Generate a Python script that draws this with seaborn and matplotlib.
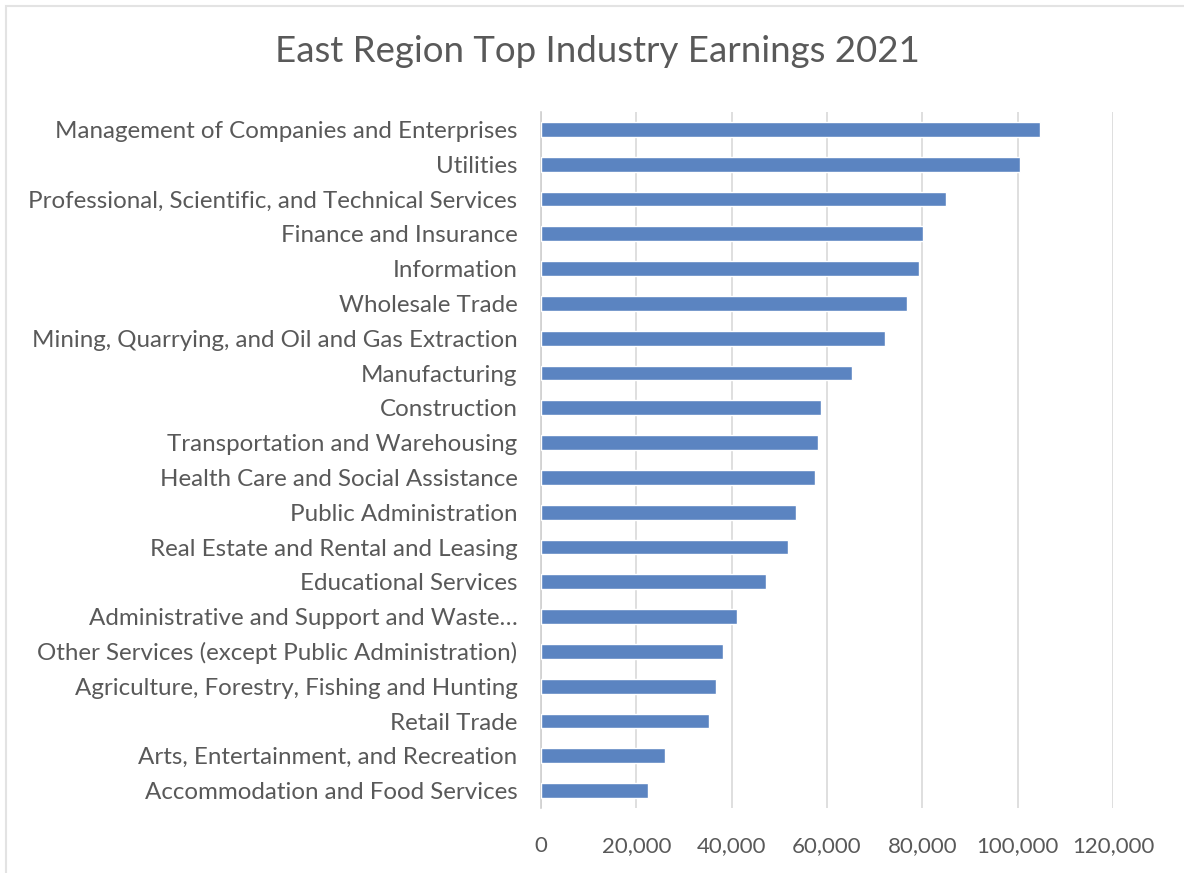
import pandas as pd
import seaborn as sns
import matplotlib.pyplot as plt
from matplotlib.ticker import FuncFormatter
from matplotlib.patches import Rectangle

# Industry earnings, East region 2021
industries = [
    "Management of Companies and Enterprises",
    "Utilities",
    "Professional, Scientific, and Technical Services",
    "Finance and Insurance",
    "Information",
    "Wholesale Trade",
    "Mining, Quarrying, and Oil and Gas Extraction",
    "Manufacturing",
    "Construction",
    "Transportation and Warehousing",
    "Health Care and Social Assistance",
    "Public Administration",
    "Real Estate and Rental and Leasing",
    "Educational Services",
    "Administrative and Support and Waste\u2026",
    "Other Services (except Public Administration)",
    "Agriculture, Forestry, Fishing and Hunting",
    "Retail Trade",
    "Arts, Entertainment, and Recreation",
    "Accommodation and Food Services",
]
earnings = [
    104700, 100400, 84900, 80200, 79200, 76800, 72200, 65300, 58650, 58050,
    57500, 53400, 51900, 47300, 41100, 38100, 36700, 35200, 26100, 22500,
]
x_ticks = [0, 20000, 40000, 60000, 80000, 100000, 120000]

df = pd.DataFrame({"Industry": industries, "Earnings": earnings})

sns.set_style("white")
plt.rcParams["font.family"] = ["Lato", "DejaVu Sans"]
text_color = "#595959"

fig = plt.figure(figsize=(11.84, 8.73), dpi=100)
ax = fig.add_axes([541 / 1184, 1 - 808 / 873, (1113 - 541) / 1184, (808 - 112) / 873])

sns.barplot(data=df, x="Earnings", y="Industry", orient="h",
            color="#5b84c1", saturation=1, width=0.42, ax=ax, zorder=3)

ax.set_xlim(0, 120000)
ax.set_xticks(x_ticks)
ax.xaxis.set_major_formatter(FuncFormatter(lambda v, p: f"{int(v):,}"))
ax.grid(axis="x", color="#d9d9d9", linewidth=1.2, zorder=0)
ax.grid(axis="y", visible=False)
ax.set_axisbelow(True)
for side in ["top", "right", "bottom"]:
    ax.spines[side].set_visible(False)
ax.spines["left"].set_color("#d0d0d0")
ax.spines["left"].set_linewidth(1.2)

ax.tick_params(axis="x", length=0, pad=20, labelsize=16, labelcolor=text_color)
ax.tick_params(axis="y", length=0, pad=17, labelsize=17.4, labelcolor=text_color)
ax.set_xlabel("")
ax.set_ylabel("")

fig.text(597 / 1184, 1 - 52 / 873, "East Region Top Industry Earnings 2021",
         ha="center", va="center", fontsize=26.4, color=text_color)

# chart area border (left/top edges visible in the reference)
fig.patches.append(Rectangle((6 / 1184, -0.05), 1.2, 1 - 6 / 873 + 0.05,
                             transform=fig.transFigure, fill=False,
                             edgecolor="#e3e3e3", linewidth=1.5))

fig.savefig("out.png", dpi=100, facecolor="white")
